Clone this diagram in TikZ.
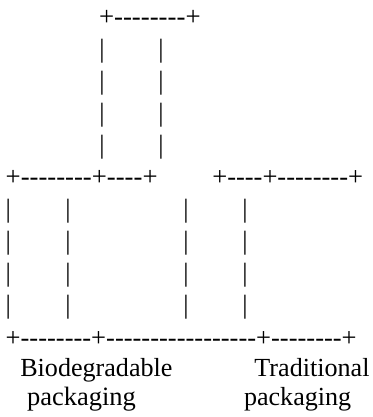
\documentclass[tikz,border=0pt]{standalone}
\usepackage{fontspec}
\setmainfont{Liberation Serif}
% plain family without TeX ligatures, so that -- stays two hyphens
\newfontfamily\asciifont{Liberation Serif}
\newcommand\asciisize[1]{\fontsize{#1}{31}\selectfont}
\begin{document}
\begin{tikzpicture}[x=1pt,y=-1pt,
  ascii/.style={inner sep=0pt,outer sep=0pt,anchor=base west,
    font=\asciifont\asciisize{26.4}},
  label/.style={ascii,font=\asciisize{26.1}}]
\useasboundingbox (0,0) rectangle (372,417);
\pgfmathsetmacro\ytop{26}
\pgfmathsetmacro\pitch{31.9}
% top box
\node[ascii,font=\asciifont\asciisize{26.8}] (topedge) at (99,\ytop) {+--------+};
\foreach \k in {1,...,4}{
  \node[ascii] (tl\k) at (99.4,{\ytop+\pitch*\k}) {|};
  \node[ascii] (tr\k) at (158.4,{\ytop+\pitch*\k}) {|};
}
% middle edges
\node[ascii,font=\asciifont\asciisize{26.7}] (midleft) at (5.7,{\ytop+\pitch*5}) {+--------+----+};
\node[ascii,font=\asciifont\asciisize{26.5}] (midright) at (212.3,{\ytop+\pitch*5}) {+----+--------+};
\foreach \k in {6,...,9}{
  \node[ascii] (a\k) at (5.7,{\ytop+\pitch*\k}) {|};
  \node[ascii] (b\k) at (65.4,{\ytop+\pitch*\k}) {|};
  \node[ascii] (c\k) at (183.4,{\ytop+\pitch*\k}) {|};
  \node[ascii] (d\k) at (242.4,{\ytop+\pitch*\k}) {|};
}
% base line
\node[ascii,font=\asciifont\asciisize{26.5}] (base) at (5.7,346) {+--------+-----------------+--------+};
% labels
\node[label] (bio1) at (20.3,376.5) {Biodegradable};
\node[label,font=\asciisize{26.5}] (bio2) at (27,405) {packaging};
\node[label,anchor=base east] (tra1) at (369.5,376.5) {Traditional};
\node[label] (tra2) at (244,405) {packaging};
\end{tikzpicture}
\end{document}
